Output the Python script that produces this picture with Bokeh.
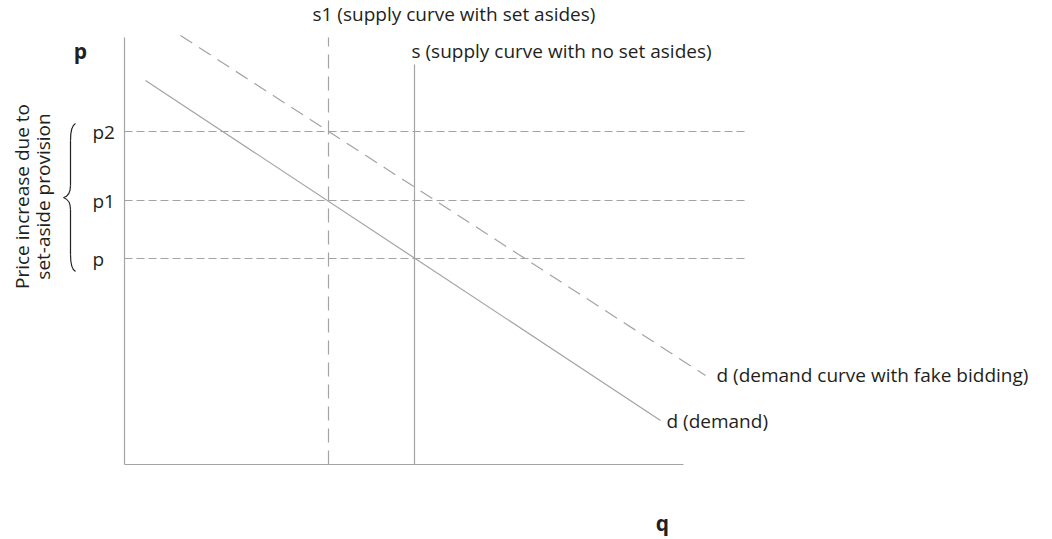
from math import pi
from bokeh.plotting import figure
from bokeh.models import Range1d
from bokeh.core.properties import value
from bokeh.embed import file_html
from bokeh.resources import INLINE

# ---- data (schematic price / quantity units) ----
price_levels = [206, 264, 333]          # p, p1, p2
price_labels = ["p", "p1", "p2"]
q_supply_set_aside = 204                # s1
q_supply_no_set_aside = 290             # s
supply_set_aside_top = 427
supply_no_set_aside_top = 400
demand_q = [21, 536]
demand_p = [384, 44]
fake_demand_q = [56, 581]
fake_demand_p = [429, 89]
q_axis_end = 559
p_axis_top = 427
guide_end = 624

FONT = value("Open Sans")
TXT = "#231f20"
LINE = "#a3a3a3"
FS = "19px"

p = figure(width=1052, height=539, output_backend="svg", toolbar_location=None,
           x_range=Range1d(-124, 928), y_range=Range1d(-75, 464),
           x_axis_location=None, y_axis_location=None, min_border=0)
p.outline_line_color = None
p.grid.grid_line_color = None

# axes
p.segment(x0=[0, 0], y0=[0, 0], x1=[q_axis_end, 0], y1=[0, p_axis_top],
          line_color=LINE, line_width=1.2)

# horizontal price guides
p.segment(x0=[0] * 3, y0=price_levels, x1=[guide_end] * 3, y1=price_levels,
          line_color=LINE, line_width=1.2, line_dash="8 4")

# supply curves
p.segment(x0=[q_supply_set_aside], y0=[0], x1=[q_supply_set_aside], y1=[supply_set_aside_top],
          line_color=LINE, line_width=1.2, line_dash="14 8")
p.segment(x0=[q_supply_no_set_aside], y0=[0], x1=[q_supply_no_set_aside], y1=[supply_no_set_aside_top],
          line_color=LINE, line_width=1.2)

# demand curves
p.line(demand_q, demand_p, line_color=LINE, line_width=1.2)
p.line(fake_demand_q, fake_demand_p, line_color=LINE, line_width=1.2, line_dash="14 8")

# price tick labels
p.text(x=[-32] * 3, y=price_levels, text=price_labels, text_font=FONT,
       text_font_size=FS, text_color=TXT, text_baseline="middle", text_align="left")

# axis names
p.text(x=[-44], y=[414], text=["p"], text_font=FONT, text_font_size="21px",
       text_font_style="bold", text_color=TXT, text_baseline="middle", text_align="center")
p.text(x=[538], y=[-58], text=["q"], text_font=FONT, text_font_size="21px",
       text_font_style="bold", text_color=TXT, text_baseline="middle", text_align="center")

# curve labels
p.text(x=[188, 287, 592, 542], y=[451, 414, 90, 44],
       text=["s1 (supply curve with set asides)", "s (supply curve with no set asides)",
             "d (demand curve with fake bidding)", "d (demand)"],
       text_font=FONT, text_font_size=FS, text_color=TXT,
       text_baseline="middle", text_align="left")

# rotated annotation
p.text(x=[-103, -82], y=[268, 268],
       text=["Price increase due to", "set-aside provision"], angle=pi / 2,
       text_font=FONT, text_font_size=FS, text_color=TXT,
       text_baseline="middle", text_align="center")

# brace
p.bezier(x0=[-49, -54, -54, -61], y0=[341, 324, 279, 267],
         x1=[-54, -54, -61, -54], y1=[324, 279, 267, 255],
         cx0=[-53, -54, -54, -56], cy0=[339, 310, 272, 265],
         cx1=[-54, -54, -56, -54], cy1=[332, 290, 268, 262],
         line_color="#231f20", line_width=1.2)
p.bezier(x0=[-54, -54], y0=[255, 210],
         x1=[-54, -49], y1=[210, 193],
         cx0=[-54, -54], cy0=[245, 202],
         cx1=[-54, -53], cy1=[220, 195],
         line_color="#231f20", line_width=1.2)

open("out.html", "w").write(file_html(p, INLINE))
